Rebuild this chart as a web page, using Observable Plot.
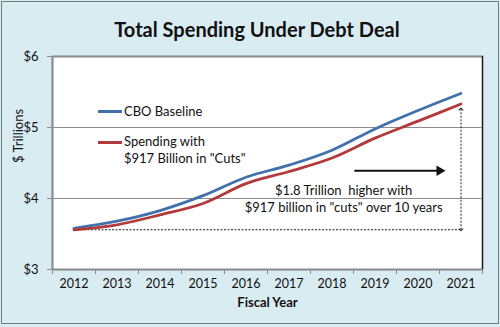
<!DOCTYPE html>
<html>
<head>
<meta charset="utf-8">
<script src="https://cdn.jsdelivr.net/npm/d3@7"></script>
<script src="https://cdn.jsdelivr.net/npm/@observablehq/plot@0.6"></script>
<style>
  html, body { margin: 0; padding: 0; background: #fff; }
  #page { position: relative; width: 500px; height: 327px; background: #d9ecf2; overflow: hidden; font-family: Lato, "Open Sans", sans-serif; }
  #border { position: absolute; left: 1px; top: 1px; width: 496px; height: 321px; border: 1px solid #6e7f80; pointer-events: none; }
  #title { position: absolute; left: 0; top: 17px; width: 514px; text-align: center; font-weight: bold; font-size: 20px; color: #111; }
  #chart { position: absolute; left: 0; top: 40px; }
  .leg { position: absolute; font-size: 13px; color: #111; line-height: 17px; }
  .sw { position: absolute; width: 24px; height: 3px; }
</style>
</head>
<body>
<div id="page">
  <div id="title">Total Spending Under Debt Deal</div>
  <div id="chart"></div>
  <div class="sw" style="left:98px;top:110px;background:#4171ab"></div>
  <div class="leg" style="left:124px;top:103px">CBO Baseline</div>
  <div class="sw" style="left:98px;top:141px;background:#b23a3a"></div>
  <div class="leg" style="left:124px;top:133px">Spending with<br>$917 Billion in "Cuts"</div>
  <div id="border"></div>
</div>
<script>
const years = [2012, 2013, 2014, 2015, 2016, 2017, 2018, 2019, 2020, 2021];
const baseline = [3.58, 3.68, 3.83, 4.04, 4.30, 4.47, 4.68, 4.98, 5.24, 5.48];
const withCuts = [3.56, 3.63, 3.77, 3.93, 4.21, 4.38, 4.57, 4.85, 5.09, 5.33];
const yTicks = [3, 4, 5, 6];
const yTickLabels = ["$3", "$4", "$5", "$6"];
const noteLines = ["$1.8 Trillion  higher with", "$917 billion in \"cuts\" over 10 years"];

const series = [
  ...years.map((y, i) => ({year: y, value: baseline[i], s: "CBO Baseline"})),
  ...years.map((y, i) => ({year: y, value: withCuts[i], s: "Spending with $917 Billion in \"Cuts\""}))
];
const colors = {"CBO Baseline": "#4171ab", "Spending with $917 Billion in \"Cuts\"": "#b23a3a"};

const x0 = years[0] - 0.5, x1 = years[years.length - 1] + 0.5;
const bounds = d3.range(x0, x1 + 0.01, 1);
const startLevel = withCuts[0];
const endYear = years[years.length - 1];
const endTop = withCuts[withCuts.length - 1] - 0.07;

const chart = Plot.plot({
  width: 500,
  height: 287,
  marginTop: 16,
  marginBottom: 58,
  marginLeft: 52,
  marginRight: 18,
  style: {background: "transparent", fontFamily: "Lato, 'Open Sans', sans-serif", fontSize: "13px", color: "#111"},
  x: {domain: [x0, x1], axis: null},
  y: {domain: [3, 6], axis: null},
  marks: [
    Plot.frame({fill: "white", stroke: "#1a1a1a", strokeWidth: 1.5}),
    Plot.ruleX([x0], {stroke: "#8c8c8c", strokeWidth: 1.2}),
    Plot.ruleY([3], {stroke: "#8c8c8c", strokeWidth: 1.2}),
    // y ticks & labels
    Plot.tickY(yTicks, {y: d => d, stroke: "#8c8c8c", frameAnchor: "left"}),
    Plot.ruleY(yTicks, {x1: x0, x2: x0 - 5 / 43, stroke: "#8c8c8c", clip: false}),
    Plot.text(yTicks, {y: d => d, text: (d, i) => yTickLabels[i], frameAnchor: "left", dx: -14, textAnchor: "end", fontSize: 13, fill: "#111"}),
    // x ticks (between categories) & labels
    Plot.ruleX(bounds, {x: d => d, y1: 3, y2: 3 - 5 / 71, stroke: "#8c8c8c"}),
    Plot.text(years, {x: d => d, text: d => String(d), frameAnchor: "bottom", dy: 18, fontSize: 12.5, fill: "#111"}),
    Plot.text(["Fiscal Year"], {frameAnchor: "bottom", dy: 37, fontSize: 13, fontWeight: "bold", fill: "#111"}),
    Plot.text(["$ Trillions"], {frameAnchor: "left", dx: -34, rotate: -90, fontSize: 13, fill: "#111"}),
    // dotted annotation lines
    Plot.ruleY([startLevel], {x1: years[0], x2: endYear, stroke: "#222", strokeDasharray: "2,1.5", strokeWidth: 1}),
    Plot.link([0], {x1: endYear, x2: endYear, y1: startLevel, y2: endTop, stroke: "#222", strokeDasharray: "2,1.5", strokeWidth: 1, marker: "arrow-reverse"}),
    // series
    Plot.line(series, {x: "year", y: "value", z: "s", stroke: d => colors[d.s], strokeWidth: 2.8, curve: "monotone-x"}),
    // horizontal arrow
    Plot.link([0], {x1: 2018.52, x2: 2020.45, y1: 4.39, y2: 4.39, stroke: "#111", strokeWidth: 2}),
    Plot.dot([0], {x: 2020.5, y: 4.39, symbol: "triangle2", r: 5, fill: "#111", rotate: 90}),
    Plot.text(noteLines, {x: 2018.27, y: (d, i) => 4.11 - i * 0.235, text: d => d, fontSize: 13, fill: "#111"})
  ]
});
document.getElementById("chart").appendChild(chart);
</script>
</body>
</html>
